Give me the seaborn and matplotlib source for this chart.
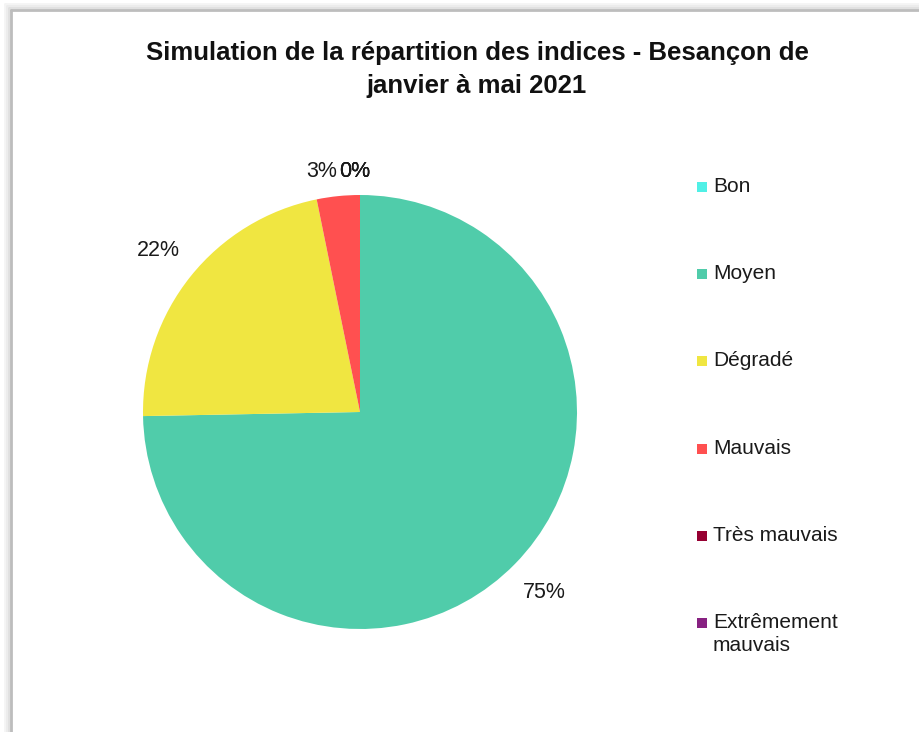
import matplotlib
matplotlib.use("Agg")
import matplotlib.pyplot as plt
import seaborn as sns
from matplotlib.patches import Rectangle
from matplotlib.lines import Line2D

# Data : répartition des indices ATMO (en %)
categories = ["Bon", "Moyen", "Dégradé", "Mauvais", "Très mauvais", "Extrêmement\nmauvais"]
values = [0, 74.7, 22.1, 3.2, 0, 0]
colors = ["#50F0E6", "#50CCAA", "#F0E641", "#FF5050", "#960032", "#872181"]

sns.set_theme(style="white")
plt.rcParams["font.family"] = ["Liberation Sans", "DejaVu Sans"]

fig = plt.figure(figsize=(9.2, 7.32), dpi=100)
W, H = 920, 732

# chart frame with a soft shadow (Excel style)
for off, col in [(6, "#f4f4f4"), (4, "#ececec"), (2, "#e0e0e0")]:
    fig.add_artist(Line2D([(11 - off) / W, (11 - off) / W], [0, (H - 10 + off) / H],
                          transform=fig.transFigure, color=col, lw=2))
    fig.add_artist(Line2D([(11 - off) / W, 1], [(H - 10 + off) / H, (H - 10 + off) / H],
                          transform=fig.transFigure, color=col, lw=2))
fig.add_artist(Line2D([11 / W, 11 / W], [0, (H - 10) / H], transform=fig.transFigure,
                      color="#bdbdbd", lw=2))
fig.add_artist(Line2D([11 / W, 1], [(H - 10) / H, (H - 10) / H], transform=fig.transFigure,
                      color="#bdbdbd", lw=2))

# pie axes: centre (360, 412) px, radius 217 px
cx, cy, r = 360, 412, 217
ax = fig.add_axes([(cx - r) / W, (H - cy - r) / H, 2 * r / W, 2 * r / H])
wedges, texts, autotexts = ax.pie(
    values, colors=colors, startangle=90, counterclock=False,
    autopct="%.0f%%", pctdistance=1.19, radius=1,
    wedgeprops=dict(linewidth=0),
    textprops=dict(fontsize=15.5, color="#1a1a1a"),
)
ax.set_xlim(-1, 1)
ax.set_ylim(-1, 1)
ax.set_aspect("equal")
ax.axis("off")

# small slices: labels squeezed next to each other at the top
for i, t in enumerate(autotexts):
    if values[i] == 0:
        t.set_position((-0.023, 1.106))
    elif values[i] < 5:
        t.set_position((-0.175, 1.106))

# title
fig.text(477 / W, 1 - 53 / H, "Simulation de la répartition des indices - Besançon de",
         ha="center", va="center", fontsize=18.5, fontweight="bold", color="#111111")
fig.text(477 / W, 1 - 86 / H, "janvier à mai 2021",
         ha="center", va="center", fontsize=18.5, fontweight="bold", color="#111111")

# legend drawn by hand
y0, step = 187, 87.2
for i, (lab, col) in enumerate(zip(categories, colors)):
    y = y0 + i * step
    fig.add_artist(Rectangle((697 / W, 1 - (y + 5) / H), 10 / W, 10 / H,
                             transform=fig.transFigure, facecolor=col, edgecolor="none"))
    fig.text(713 / W, 1 - (y - 10) / H, lab, ha="left", va="top", fontsize=15,
             color="#1a1a1a", linespacing=1.28)

fig.savefig("out.png", dpi=100, facecolor="white")
